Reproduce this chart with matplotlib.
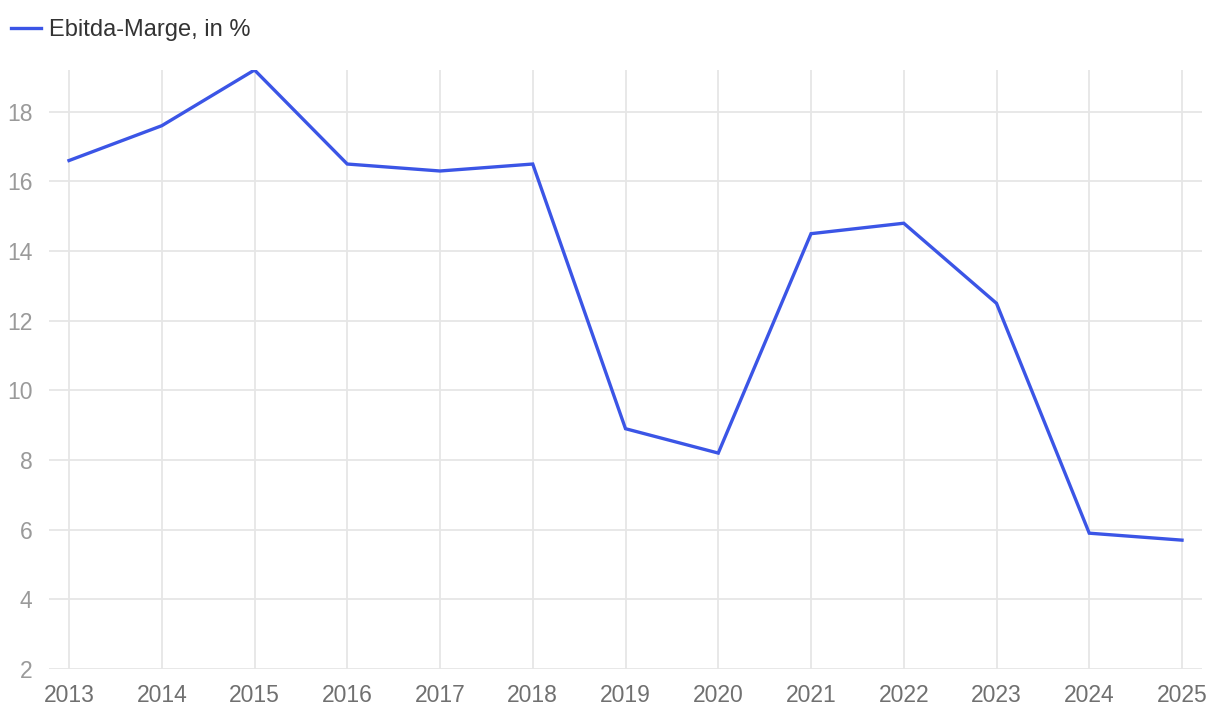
import matplotlib
matplotlib.use('Agg')
import matplotlib.pyplot as plt

# Chart data
years = [2013, 2014, 2015, 2016, 2017, 2018, 2019, 2020, 2021, 2022, 2023, 2024, 2025]
ebitda_margin = [16.6, 17.6, 19.2, 16.5, 16.3, 16.5, 8.9, 8.2, 14.5, 14.8, 12.5, 5.9, 5.7]
y_ticks = [2, 4, 6, 8, 10, 12, 14, 16, 18]

plt.rcParams['font.family'] = ['Liberation Sans', 'DejaVu Sans']

fig = plt.figure(figsize=(12.2, 7.16), dpi=100)
W, H = 1220, 716
ax = fig.add_axes([49 / W, 1 - 669 / H, (1202 - 49) / W, (669 - 70) / H])

ax.plot(years, ebitda_margin, color='#3b55e6', linewidth=2.4,
        solid_joinstyle='miter', label='Ebitda-Marge, in %', zorder=3)

ax.set_xlim(2013 - 20 / 92.75, 2025 + 20 / 92.75)
ax.set_ylim(2, 19.2)
ax.set_xticks(years)
ax.set_yticks(y_ticks)

for s in ax.spines.values():
    s.set_visible(False)
ax.grid(True, color='#e6e6e6', linewidth=1.3)
ax.set_axisbelow(True)
ax.tick_params(axis='both', length=0, labelsize=16.5)
ax.tick_params(axis='y', colors='#9a9a9a', pad=12)
ax.tick_params(axis='x', colors='#707070', pad=11)

fig.legend(loc='upper left', bbox_to_anchor=(11 / W, 1 - 19 / H), frameon=False,
           fontsize=17, handlelength=1.27, handletextpad=0.34,
           borderaxespad=0, borderpad=0, labelcolor='#333333')

fig.savefig('out.png', dpi=100)
